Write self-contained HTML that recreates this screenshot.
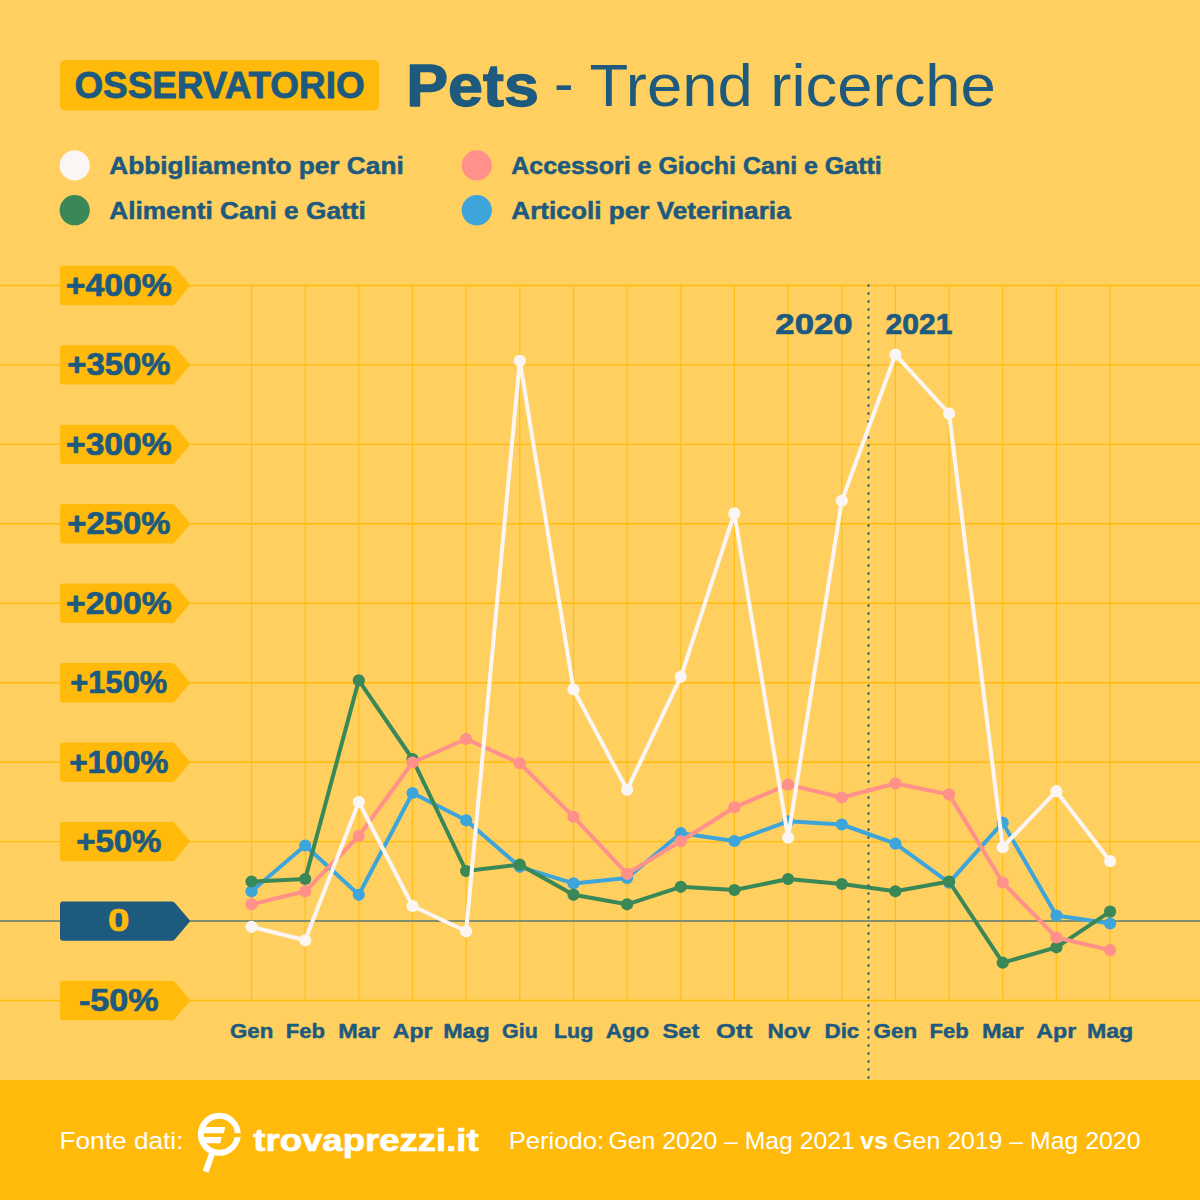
<!DOCTYPE html>
<html lang="it">
<head>
<meta charset="utf-8">
<title>Osservatorio Pets - Trend ricerche</title>
<style>
html,body{margin:0;padding:0;}
body{width:1200px;height:1200px;overflow:hidden;background:#FFD05F;position:relative;font-family:"Liberation Sans",sans-serif;}
svg{position:absolute;left:0;top:0;display:block;}
.b{font-family:"Liberation Sans",sans-serif;font-weight:700;}
.r{font-family:"Liberation Sans",sans-serif;font-weight:400;}
</style>
</head>
<body>
<svg width="1200" height="1200" viewBox="0 0 1200 1200">
  <rect x="60" y="60" width="319" height="50.4" rx="5" fill="#FFBA0B"/>
  <text class="b" x="74.41" y="97.59" font-size="36.13" fill="#1E5A7E" textLength="290.18" lengthAdjust="spacingAndGlyphs" stroke="#1E5A7E" stroke-width="0.82" stroke-linejoin="round">OSSERVATORIO</text>
  <text class="b" x="406.18" y="105.82" font-size="59.86" fill="#1E5A7E" textLength="132.64" lengthAdjust="spacingAndGlyphs" stroke="#1E5A7E" stroke-width="1.36" stroke-linejoin="round">Pets</text>
  <text class="r" x="554" y="102.9" font-size="58.7" fill="#1E5A7E">-</text>
  <text class="r" x="589.40" y="106.30" font-size="58.70" fill="#1E5A7E" textLength="406.50" lengthAdjust="spacingAndGlyphs">Trend ricerche</text>
  <circle cx="74.7" cy="165.4" r="15.1" fill="#FBF5F3"/>
  <circle cx="74.7" cy="210.2" r="15.1" fill="#3A8757"/>
  <circle cx="476.8" cy="165.4" r="15.1" fill="#FF918A"/>
  <circle cx="476.8" cy="210.2" r="15.1" fill="#3EA5DB"/>
  <text class="b" x="109.27" y="174.23" font-size="23.63" fill="#1E5A7E" textLength="294.46" lengthAdjust="spacingAndGlyphs" stroke="#1E5A7E" stroke-width="0.54" stroke-linejoin="round">Abbigliamento per Cani</text>
  <text class="b" x="109.27" y="219.03" font-size="23.63" fill="#1E5A7E" textLength="256.46" lengthAdjust="spacingAndGlyphs" stroke="#1E5A7E" stroke-width="0.54" stroke-linejoin="round">Alimenti Cani e Gatti</text>
  <text class="b" x="511.27" y="174.23" font-size="23.63" fill="#1E5A7E" textLength="370.46" lengthAdjust="spacingAndGlyphs" stroke="#1E5A7E" stroke-width="0.54" stroke-linejoin="round">Accessori e Giochi Cani e Gatti</text>
  <text class="b" x="511.27" y="219.03" font-size="23.63" fill="#1E5A7E" textLength="279.46" lengthAdjust="spacingAndGlyphs" stroke="#1E5A7E" stroke-width="0.54" stroke-linejoin="round">Articoli per Veterinaria</text>
  <g id="grid">
  <line x1="0" y1="285.5" x2="1200" y2="285.5" stroke="#FFBA0B" stroke-width="1.4"/>
  <line x1="0" y1="364.9" x2="1200" y2="364.9" stroke="#FFBA0B" stroke-width="1.4"/>
  <line x1="0" y1="444.4" x2="1200" y2="444.4" stroke="#FFBA0B" stroke-width="1.4"/>
  <line x1="0" y1="523.8" x2="1200" y2="523.8" stroke="#FFBA0B" stroke-width="1.4"/>
  <line x1="0" y1="603.3" x2="1200" y2="603.3" stroke="#FFBA0B" stroke-width="1.4"/>
  <line x1="0" y1="682.7" x2="1200" y2="682.7" stroke="#FFBA0B" stroke-width="1.4"/>
  <line x1="0" y1="762.2" x2="1200" y2="762.2" stroke="#FFBA0B" stroke-width="1.4"/>
  <line x1="0" y1="841.6" x2="1200" y2="841.6" stroke="#FFBA0B" stroke-width="1.4"/>
  <line x1="0" y1="1000.5" x2="1200" y2="1000.5" stroke="#FFBA0B" stroke-width="1.4"/>
  <line x1="251.5" y1="285.5" x2="251.5" y2="1000.5" stroke="#FFBE18" stroke-width="1.2"/>
  <line x1="305.2" y1="285.5" x2="305.2" y2="1000.5" stroke="#FFBE18" stroke-width="1.2"/>
  <line x1="358.8" y1="285.5" x2="358.8" y2="1000.5" stroke="#FFBE18" stroke-width="1.2"/>
  <line x1="412.5" y1="285.5" x2="412.5" y2="1000.5" stroke="#FFBE18" stroke-width="1.2"/>
  <line x1="466.1" y1="285.5" x2="466.1" y2="1000.5" stroke="#FFBE18" stroke-width="1.2"/>
  <line x1="519.8" y1="285.5" x2="519.8" y2="1000.5" stroke="#FFBE18" stroke-width="1.2"/>
  <line x1="573.5" y1="285.5" x2="573.5" y2="1000.5" stroke="#FFBE18" stroke-width="1.2"/>
  <line x1="627.1" y1="285.5" x2="627.1" y2="1000.5" stroke="#FFBE18" stroke-width="1.2"/>
  <line x1="680.8" y1="285.5" x2="680.8" y2="1000.5" stroke="#FFBE18" stroke-width="1.2"/>
  <line x1="734.4" y1="285.5" x2="734.4" y2="1000.5" stroke="#FFBE18" stroke-width="1.2"/>
  <line x1="788.1" y1="285.5" x2="788.1" y2="1000.5" stroke="#FFBE18" stroke-width="1.2"/>
  <line x1="841.8" y1="285.5" x2="841.8" y2="1000.5" stroke="#FFBE18" stroke-width="1.2"/>
  <line x1="895.4" y1="285.5" x2="895.4" y2="1000.5" stroke="#FFBE18" stroke-width="1.2"/>
  <line x1="949.1" y1="285.5" x2="949.1" y2="1000.5" stroke="#FFBE18" stroke-width="1.2"/>
  <line x1="1002.7" y1="285.5" x2="1002.7" y2="1000.5" stroke="#FFBE18" stroke-width="1.2"/>
  <line x1="1056.4" y1="285.5" x2="1056.4" y2="1000.5" stroke="#FFBE18" stroke-width="1.2"/>
  <line x1="1110.1" y1="285.5" x2="1110.1" y2="1000.5" stroke="#FFBE18" stroke-width="1.2"/>
  <line x1="0" y1="921.1" x2="1200" y2="921.1" stroke="#829070" stroke-width="2"/>
  </g>
  <g id="tags">
  <path d="M63,265.8 H172 Q173.8,265.8 175,267.3 L190.3,285.5 L175,303.7 Q173.8,305.2 172,305.2 H63 Q60,305.2 60,302.2 V268.8 Q60,265.8 63,265.8 Z" fill="#FFBA0B"/>
  <text class="b" x="65.85" y="295.85" font-size="30.80" fill="#1E5A7E" textLength="105.90" lengthAdjust="spacingAndGlyphs" stroke="#1E5A7E" stroke-width="0.70" stroke-linejoin="round">+400%</text>
  <path d="M63,345.2 H172 Q173.8,345.2 175,346.7 L190.3,364.9 L175,383.1 Q173.8,384.6 172,384.6 H63 Q60,384.6 60,381.6 V348.2 Q60,345.2 63,345.2 Z" fill="#FFBA0B"/>
  <text class="b" x="67.30" y="375.29" font-size="30.80" fill="#1E5A7E" textLength="103.00" lengthAdjust="spacingAndGlyphs" stroke="#1E5A7E" stroke-width="0.70" stroke-linejoin="round">+350%</text>
  <path d="M63,424.7 H172 Q173.8,424.7 175,426.2 L190.3,444.4 L175,462.6 Q173.8,464.1 172,464.1 H63 Q60,464.1 60,461.1 V427.7 Q60,424.7 63,424.7 Z" fill="#FFBA0B"/>
  <text class="b" x="66.00" y="454.74" font-size="30.80" fill="#1E5A7E" textLength="105.60" lengthAdjust="spacingAndGlyphs" stroke="#1E5A7E" stroke-width="0.70" stroke-linejoin="round">+300%</text>
  <path d="M63,504.1 H172 Q173.8,504.1 175,505.6 L190.3,523.8 L175,542.0 Q173.8,543.5 172,543.5 H63 Q60,543.5 60,540.5 V507.1 Q60,504.1 63,504.1 Z" fill="#FFBA0B"/>
  <text class="b" x="67.30" y="534.18" font-size="30.80" fill="#1E5A7E" textLength="103.00" lengthAdjust="spacingAndGlyphs" stroke="#1E5A7E" stroke-width="0.70" stroke-linejoin="round">+250%</text>
  <path d="M63,583.6 H172 Q173.8,583.6 175,585.1 L190.3,603.3 L175,621.5 Q173.8,623.0 172,623.0 H63 Q60,623.0 60,620.0 V586.6 Q60,583.6 63,583.6 Z" fill="#FFBA0B"/>
  <text class="b" x="66.00" y="613.63" font-size="30.80" fill="#1E5A7E" textLength="105.60" lengthAdjust="spacingAndGlyphs" stroke="#1E5A7E" stroke-width="0.70" stroke-linejoin="round">+200%</text>
  <path d="M63,663.0 H172 Q173.8,663.0 175,664.5 L190.3,682.7 L175,700.9 Q173.8,702.4 172,702.4 H63 Q60,702.4 60,699.4 V666.0 Q60,663.0 63,663.0 Z" fill="#FFBA0B"/>
  <text class="b" x="70.35" y="693.07" font-size="30.80" fill="#1E5A7E" textLength="96.90" lengthAdjust="spacingAndGlyphs" stroke="#1E5A7E" stroke-width="0.70" stroke-linejoin="round">+150%</text>
  <path d="M63,742.5 H172 Q173.8,742.5 175,744.0 L190.3,762.2 L175,780.4 Q173.8,781.9 172,781.9 H63 Q60,781.9 60,778.9 V745.5 Q60,742.5 63,742.5 Z" fill="#FFBA0B"/>
  <text class="b" x="69.15" y="772.51" font-size="30.80" fill="#1E5A7E" textLength="99.30" lengthAdjust="spacingAndGlyphs" stroke="#1E5A7E" stroke-width="0.70" stroke-linejoin="round">+100%</text>
  <path d="M63,821.9 H172 Q173.8,821.9 175,823.4 L190.3,841.6 L175,859.8 Q173.8,861.3 172,861.3 H63 Q60,861.3 60,858.3 V824.9 Q60,821.9 63,821.9 Z" fill="#FFBA0B"/>
  <text class="b" x="76.15" y="851.96" font-size="30.80" fill="#1E5A7E" textLength="85.30" lengthAdjust="spacingAndGlyphs" stroke="#1E5A7E" stroke-width="0.70" stroke-linejoin="round">+50%</text>
  <path d="M63,901.4 H172 Q173.8,901.4 175,902.9 L190.3,921.1 L175,939.3 Q173.8,940.8 172,940.8 H63 Q60,940.8 60,937.8 V904.4 Q60,901.4 63,901.4 Z" fill="#1E5A7E"/>
  <text class="b" x="108.10" y="931.40" font-size="30.80" fill="#FFBA0B" textLength="21.40" lengthAdjust="spacingAndGlyphs" stroke="#FFBA0B" stroke-width="0.70" stroke-linejoin="round">0</text>
  <path d="M63,980.8 H172 Q173.8,980.8 175,982.3 L190.3,1000.5 L175,1018.7 Q173.8,1020.2 172,1020.2 H63 Q60,1020.2 60,1017.2 V983.8 Q60,980.8 63,980.8 Z" fill="#FFBA0B"/>
  <text class="b" x="78.95" y="1010.85" font-size="30.80" fill="#1E5A7E" textLength="79.70" lengthAdjust="spacingAndGlyphs" stroke="#1E5A7E" stroke-width="0.70" stroke-linejoin="round">-50%</text>
  </g>
  <g id="months">
  <text class="b" x="230.02" y="1038.08" font-size="19.76" fill="#1E5A7E" textLength="43.25" lengthAdjust="spacingAndGlyphs" stroke="#1E5A7E" stroke-width="0.45" stroke-linejoin="round">Gen</text>
  <text class="b" x="285.72" y="1038.08" font-size="19.76" fill="#1E5A7E" textLength="39.35" lengthAdjust="spacingAndGlyphs" stroke="#1E5A7E" stroke-width="0.45" stroke-linejoin="round">Feb</text>
  <text class="b" x="338.22" y="1038.08" font-size="19.76" fill="#1E5A7E" textLength="41.75" lengthAdjust="spacingAndGlyphs" stroke="#1E5A7E" stroke-width="0.45" stroke-linejoin="round">Mar</text>
  <text class="b" x="392.82" y="1038.08" font-size="19.76" fill="#1E5A7E" textLength="39.65" lengthAdjust="spacingAndGlyphs" stroke="#1E5A7E" stroke-width="0.45" stroke-linejoin="round">Apr</text>
  <text class="b" x="443.22" y="1038.08" font-size="19.76" fill="#1E5A7E" textLength="46.35" lengthAdjust="spacingAndGlyphs" stroke="#1E5A7E" stroke-width="0.45" stroke-linejoin="round">Mag</text>
  <text class="b" x="502.02" y="1038.08" font-size="19.76" fill="#1E5A7E" textLength="35.75" lengthAdjust="spacingAndGlyphs" stroke="#1E5A7E" stroke-width="0.45" stroke-linejoin="round">Giu</text>
  <text class="b" x="553.92" y="1038.08" font-size="19.76" fill="#1E5A7E" textLength="39.35" lengthAdjust="spacingAndGlyphs" stroke="#1E5A7E" stroke-width="0.45" stroke-linejoin="round">Lug</text>
  <text class="b" x="605.72" y="1038.08" font-size="19.76" fill="#1E5A7E" textLength="43.55" lengthAdjust="spacingAndGlyphs" stroke="#1E5A7E" stroke-width="0.45" stroke-linejoin="round">Ago</text>
  <text class="b" x="662.42" y="1038.08" font-size="19.76" fill="#1E5A7E" textLength="36.95" lengthAdjust="spacingAndGlyphs" stroke="#1E5A7E" stroke-width="0.45" stroke-linejoin="round">Set</text>
  <text class="b" x="716.02" y="1038.08" font-size="19.76" fill="#1E5A7E" textLength="36.55" lengthAdjust="spacingAndGlyphs" stroke="#1E5A7E" stroke-width="0.45" stroke-linejoin="round">Ott</text>
  <text class="b" x="767.42" y="1038.08" font-size="19.76" fill="#1E5A7E" textLength="42.85" lengthAdjust="spacingAndGlyphs" stroke="#1E5A7E" stroke-width="0.45" stroke-linejoin="round">Nov</text>
  <text class="b" x="824.52" y="1038.08" font-size="19.76" fill="#1E5A7E" textLength="34.75" lengthAdjust="spacingAndGlyphs" stroke="#1E5A7E" stroke-width="0.45" stroke-linejoin="round">Dic</text>
  <text class="b" x="873.52" y="1038.08" font-size="19.76" fill="#1E5A7E" textLength="43.55" lengthAdjust="spacingAndGlyphs" stroke="#1E5A7E" stroke-width="0.45" stroke-linejoin="round">Gen</text>
  <text class="b" x="929.42" y="1038.08" font-size="19.76" fill="#1E5A7E" textLength="39.35" lengthAdjust="spacingAndGlyphs" stroke="#1E5A7E" stroke-width="0.45" stroke-linejoin="round">Feb</text>
  <text class="b" x="981.92" y="1038.08" font-size="19.76" fill="#1E5A7E" textLength="41.85" lengthAdjust="spacingAndGlyphs" stroke="#1E5A7E" stroke-width="0.45" stroke-linejoin="round">Mar</text>
  <text class="b" x="1036.22" y="1038.08" font-size="19.76" fill="#1E5A7E" textLength="40.05" lengthAdjust="spacingAndGlyphs" stroke="#1E5A7E" stroke-width="0.45" stroke-linejoin="round">Apr</text>
  <text class="b" x="1086.92" y="1038.08" font-size="19.76" fill="#1E5A7E" textLength="46.35" lengthAdjust="spacingAndGlyphs" stroke="#1E5A7E" stroke-width="0.45" stroke-linejoin="round">Mag</text>
  </g>
  <text class="b" x="775.35" y="334.15" font-size="29.80" fill="#1E5A7E" textLength="77.30" lengthAdjust="spacingAndGlyphs" stroke="#1E5A7E" stroke-width="0.70" stroke-linejoin="round">2020</text>
  <text class="b" x="885.55" y="334.15" font-size="29.80" fill="#1E5A7E" textLength="66.90" lengthAdjust="spacingAndGlyphs" stroke="#1E5A7E" stroke-width="0.70" stroke-linejoin="round">2021</text>
  <g id="s-blue">
<polyline points="251.5,891.3 305.2,845.5 358.8,894.8 412.5,793.0 466.1,820.3 519.8,866.8 573.5,883.4 627.1,878.0 680.8,833.2 734.4,841.0 788.1,821.3 841.8,824.5 895.4,843.7 949.1,882.6 1002.7,822.7 1056.4,915.5 1110.1,923.5" fill="none" stroke="#3EA5DB" stroke-width="4" stroke-linejoin="round" stroke-linecap="round"/>
<circle cx="251.5" cy="891.3" r="6.1" fill="#3EA5DB"/>
<circle cx="305.2" cy="845.5" r="6.1" fill="#3EA5DB"/>
<circle cx="358.8" cy="894.8" r="6.1" fill="#3EA5DB"/>
<circle cx="412.5" cy="793.0" r="6.1" fill="#3EA5DB"/>
<circle cx="466.1" cy="820.3" r="6.1" fill="#3EA5DB"/>
<circle cx="519.8" cy="866.8" r="6.1" fill="#3EA5DB"/>
<circle cx="573.5" cy="883.4" r="6.1" fill="#3EA5DB"/>
<circle cx="627.1" cy="878.0" r="6.1" fill="#3EA5DB"/>
<circle cx="680.8" cy="833.2" r="6.1" fill="#3EA5DB"/>
<circle cx="734.4" cy="841.0" r="6.1" fill="#3EA5DB"/>
<circle cx="788.1" cy="821.3" r="6.1" fill="#3EA5DB"/>
<circle cx="841.8" cy="824.5" r="6.1" fill="#3EA5DB"/>
<circle cx="895.4" cy="843.7" r="6.1" fill="#3EA5DB"/>
<circle cx="949.1" cy="882.6" r="6.1" fill="#3EA5DB"/>
<circle cx="1002.7" cy="822.7" r="6.1" fill="#3EA5DB"/>
<circle cx="1056.4" cy="915.5" r="6.1" fill="#3EA5DB"/>
<circle cx="1110.1" cy="923.5" r="6.1" fill="#3EA5DB"/>
</g>
  <g id="s-green">
<polyline points="251.5,881.5 305.2,879.0 358.8,680.3 412.5,759.0 466.1,871.0 519.8,864.7 573.5,894.8 627.1,904.3 680.8,886.8 734.4,890.0 788.1,879.0 841.8,884.0 895.4,891.3 949.1,881.5 1002.7,962.7 1056.4,947.3 1110.1,911.6" fill="none" stroke="#3A8757" stroke-width="4" stroke-linejoin="round" stroke-linecap="round"/>
<circle cx="251.5" cy="881.5" r="6.1" fill="#3A8757"/>
<circle cx="305.2" cy="879.0" r="6.1" fill="#3A8757"/>
<circle cx="358.8" cy="680.3" r="6.1" fill="#3A8757"/>
<circle cx="412.5" cy="759.0" r="6.1" fill="#3A8757"/>
<circle cx="466.1" cy="871.0" r="6.1" fill="#3A8757"/>
<circle cx="519.8" cy="864.7" r="6.1" fill="#3A8757"/>
<circle cx="573.5" cy="894.8" r="6.1" fill="#3A8757"/>
<circle cx="627.1" cy="904.3" r="6.1" fill="#3A8757"/>
<circle cx="680.8" cy="886.8" r="6.1" fill="#3A8757"/>
<circle cx="734.4" cy="890.0" r="6.1" fill="#3A8757"/>
<circle cx="788.1" cy="879.0" r="6.1" fill="#3A8757"/>
<circle cx="841.8" cy="884.0" r="6.1" fill="#3A8757"/>
<circle cx="895.4" cy="891.3" r="6.1" fill="#3A8757"/>
<circle cx="949.1" cy="881.5" r="6.1" fill="#3A8757"/>
<circle cx="1002.7" cy="962.7" r="6.1" fill="#3A8757"/>
<circle cx="1056.4" cy="947.3" r="6.1" fill="#3A8757"/>
<circle cx="1110.1" cy="911.6" r="6.1" fill="#3A8757"/>
</g>
  <line x1="868.5" y1="285.5" x2="868.5" y2="1080" stroke="#1E5A7E" stroke-width="2.4" stroke-dasharray="0 8" stroke-linecap="round"/>
  <g id="s-pink">
<polyline points="251.5,904.3 305.2,891.3 358.8,836.0 412.5,762.5 466.1,739.0 519.8,763.2 573.5,816.8 627.1,873.8 680.8,841.3 734.4,807.3 788.1,784.6 841.8,797.5 895.4,783.5 949.1,794.4 1002.7,882.5 1056.4,937.5 1110.1,950.1" fill="none" stroke="#FF918A" stroke-width="4" stroke-linejoin="round" stroke-linecap="round"/>
<circle cx="251.5" cy="904.3" r="6.1" fill="#FF918A"/>
<circle cx="305.2" cy="891.3" r="6.1" fill="#FF918A"/>
<circle cx="358.8" cy="836.0" r="6.1" fill="#FF918A"/>
<circle cx="412.5" cy="762.5" r="6.1" fill="#FF918A"/>
<circle cx="466.1" cy="739.0" r="6.1" fill="#FF918A"/>
<circle cx="519.8" cy="763.2" r="6.1" fill="#FF918A"/>
<circle cx="573.5" cy="816.8" r="6.1" fill="#FF918A"/>
<circle cx="627.1" cy="873.8" r="6.1" fill="#FF918A"/>
<circle cx="680.8" cy="841.3" r="6.1" fill="#FF918A"/>
<circle cx="734.4" cy="807.3" r="6.1" fill="#FF918A"/>
<circle cx="788.1" cy="784.6" r="6.1" fill="#FF918A"/>
<circle cx="841.8" cy="797.5" r="6.1" fill="#FF918A"/>
<circle cx="895.4" cy="783.5" r="6.1" fill="#FF918A"/>
<circle cx="949.1" cy="794.4" r="6.1" fill="#FF918A"/>
<circle cx="1002.7" cy="882.5" r="6.1" fill="#FF918A"/>
<circle cx="1056.4" cy="937.5" r="6.1" fill="#FF918A"/>
<circle cx="1110.1" cy="950.1" r="6.1" fill="#FF918A"/>
</g>
  <g id="s-white">
<polyline points="251.5,926.8 305.2,940.3 358.8,802.0 412.5,906.0 466.1,931.3 519.8,360.8 573.5,689.5 627.1,789.8 680.8,676.8 734.4,513.4 788.1,837.8 841.8,500.8 895.4,354.7 949.1,413.5 1002.7,847.2 1056.4,791.2 1110.1,861.2" fill="none" stroke="#FBF5F3" stroke-width="4" stroke-linejoin="round" stroke-linecap="round"/>
<circle cx="251.5" cy="926.8" r="6.1" fill="#FBF5F3"/>
<circle cx="305.2" cy="940.3" r="6.1" fill="#FBF5F3"/>
<circle cx="358.8" cy="802.0" r="6.1" fill="#FBF5F3"/>
<circle cx="412.5" cy="906.0" r="6.1" fill="#FBF5F3"/>
<circle cx="466.1" cy="931.3" r="6.1" fill="#FBF5F3"/>
<circle cx="519.8" cy="360.8" r="6.1" fill="#FBF5F3"/>
<circle cx="573.5" cy="689.5" r="6.1" fill="#FBF5F3"/>
<circle cx="627.1" cy="789.8" r="6.1" fill="#FBF5F3"/>
<circle cx="680.8" cy="676.8" r="6.1" fill="#FBF5F3"/>
<circle cx="734.4" cy="513.4" r="6.1" fill="#FBF5F3"/>
<circle cx="788.1" cy="837.8" r="6.1" fill="#FBF5F3"/>
<circle cx="841.8" cy="500.8" r="6.1" fill="#FBF5F3"/>
<circle cx="895.4" cy="354.7" r="6.1" fill="#FBF5F3"/>
<circle cx="949.1" cy="413.5" r="6.1" fill="#FBF5F3"/>
<circle cx="1002.7" cy="847.2" r="6.1" fill="#FBF5F3"/>
<circle cx="1056.4" cy="791.2" r="6.1" fill="#FBF5F3"/>
<circle cx="1110.1" cy="861.2" r="6.1" fill="#FBF5F3"/>
</g>
  <rect x="0" y="1080" width="1200" height="120" fill="#FFBA0B"/>
  <text class="r" x="59.50" y="1149.40" font-size="23.70" fill="#FFFFFF" textLength="124.00" lengthAdjust="spacingAndGlyphs">Fonte dati:</text>
  <g id="logo" fill="#FFFFFF">
    <circle cx="219.3" cy="1134.3" r="18.5" fill="none" stroke="#FFFFFF" stroke-width="5.9"/>
    <rect x="229" y="1133.1" width="16" height="4" fill="#FFBA0B"/>
    <path d="M200,1126.9 H225.2 L223.9,1133.3 H200 Z"/>
    <path d="M200,1137 H221.7 L220.4,1143.2 H200 Z"/>
    <line x1="213.6" y1="1149" x2="205.6" y2="1171.8" stroke="#FFFFFF" stroke-width="6.1"/>
  </g>
  <text class="b" x="253.35" y="1150.65" font-size="30.99" fill="#FFFFFF" textLength="225.30" lengthAdjust="spacingAndGlyphs" stroke="#FFFFFF" stroke-width="0.70" stroke-linejoin="round">trovaprezzi.it</text>
  <g id="periodo">
  <text class="r" x="508.70" y="1149.20" font-size="23.70" fill="#FFFFFF" textLength="95.40" lengthAdjust="spacingAndGlyphs">Periodo:</text>
  <text class="r" x="608.50" y="1149.20" font-size="23.70" fill="#FFFFFF" textLength="246.30" lengthAdjust="spacingAndGlyphs">Gen 2020 – Mag 2021</text>
  <text class="b" x="860.00" y="1149.20" font-size="23.70" fill="#FFFFFF" textLength="28.00" lengthAdjust="spacingAndGlyphs">vs</text>
  <text class="r" x="893.30" y="1149.20" font-size="23.70" fill="#FFFFFF" textLength="247.20" lengthAdjust="spacingAndGlyphs">Gen 2019 – Mag 2020</text>
  </g>
</svg>
</body>
</html>
